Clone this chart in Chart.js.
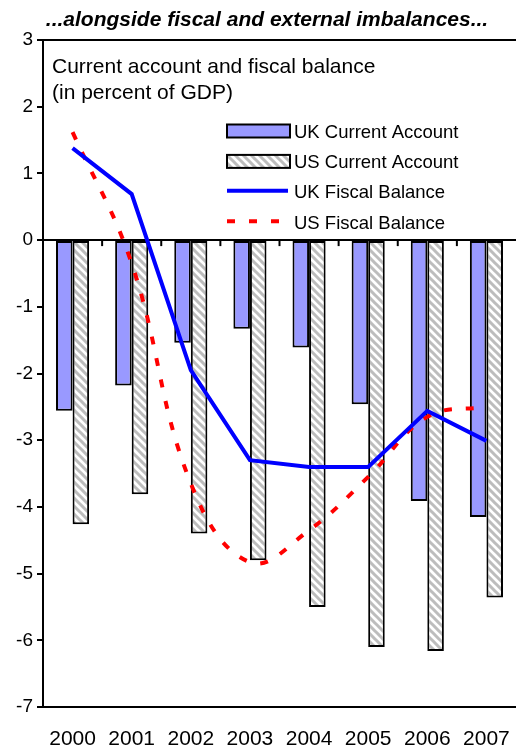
<!DOCTYPE html>
<html>
<head>
<meta charset="utf-8">
<script src="https://cdn.jsdelivr.net/npm/chart.js@4.4.0/dist/chart.umd.min.js"></script>
<style>
  html, body { margin: 0; padding: 0; background: #fff; }
  #wrap { width: 516px; height: 753px; position: relative; }
</style>
</head>
<body>
<div id="wrap"><canvas id="chart"></canvas></div>
<script>
// === Data ===
const years = ["2000", "2001", "2002", "2003", "2004", "2005", "2006", "2007"];
const ukCurrentAccount = [-2.56, -2.18, -1.54, -1.33, -1.61, -2.46, -3.91, -4.15];
const usCurrentAccount = [-4.26, -3.81, -4.40, -4.80, -5.50, -6.10, -6.16, -5.36];
const ukFiscalBalance = [1.38, 0.69, -1.95, -3.30, -3.40, -3.40, -2.56, -3.01];
const usFiscalBalance = [1.62, -0.35, -3.65, -4.83, -4.35, -3.55, -2.65, -2.50];
const yMin = -7;
const yMax = 3;
const seriesNames = ["UK Current Account", "US Current Account", "UK Fiscal Balance", "US Fiscal Balance"];
const titleText = "...alongside fiscal and external imbalances...";
const noteLines = ["Current account and fiscal balance", "(in percent of GDP)"];

const FONT = "'Liberation Sans', Arial, sans-serif";

// grey diagonal hatch for the US bars
function makeHatch() {
  const c = document.createElement("canvas");
  c.width = 8; c.height = 8;
  const g = c.getContext("2d");
  g.fillStyle = "#fff";
  g.fillRect(0, 0, 8, 8);
  g.strokeStyle = "#bdbdbd";
  g.lineWidth = 3;
  g.beginPath();
  g.moveTo(-4, 4); g.lineTo(4, 12);
  g.moveTo(0, 0); g.lineTo(8, 8);
  g.moveTo(4, -4); g.lineTo(12, 4);
  g.stroke();
  return g.createPattern(c, "repeat");
}
const hatch = makeHatch();

// === small tick marks on the zero line between categories ===
const zeroTicks = {
  id: "zeroTicks",
  afterDatasetsDraw(chart) {
    const { ctx, scales: { x, y } } = chart;
    const y0 = y.getPixelForValue(0);
    ctx.save();
    ctx.strokeStyle = "#000";
    ctx.lineWidth = 2;
    for (let i = 0; i < years.length - 1; i++) {
      const px = (x.getPixelForValue(i) + x.getPixelForValue(i + 1)) / 2;
      ctx.beginPath();
      ctx.moveTo(px, y0);
      ctx.lineTo(px, y0 + 6);
      ctx.stroke();
    }
    ctx.restore();
  }
};

// === title, note text and legend ===
const insideLegend = {
  id: "insideLegend",
  afterDraw(chart) {
    const { ctx, chartArea: a } = chart;
    const ds = chart.data.datasets;
    ctx.save();
    ctx.fillStyle = "#000";
    ctx.textBaseline = "alphabetic";

    ctx.textAlign = "center";
    ctx.font = "italic bold 21px " + FONT;
    ctx.fillText(titleText, 267, 26);

    ctx.textAlign = "left";
    ctx.font = "21px " + FONT;
    noteLines.forEach((t, i) => ctx.fillText(t, a.left + 9, a.top + 33 + i * 26));

    const bx = a.left + 184, bw = 63, bh = 13;
    ctx.font = "18.5px " + FONT;
    ds.forEach((d, i) => {
      const cy = a.top + 91 + i * 30.4;
      if (d.type === "bar") {
        ctx.fillStyle = d.backgroundColor;
        ctx.fillRect(bx, cy - bh / 2, bw, bh);
        ctx.strokeStyle = "#000";
        ctx.lineWidth = 2;
        ctx.strokeRect(bx, cy - bh / 2, bw, bh);
      } else {
        ctx.strokeStyle = d.borderColor;
        ctx.lineWidth = d.borderWidth;
        ctx.setLineDash(d.borderDash || []);
        ctx.beginPath();
        ctx.moveTo(bx, cy - 1);
        ctx.lineTo(bx + bw - 2, cy - 1);
        ctx.stroke();
        ctx.setLineDash([]);
      }
      ctx.fillStyle = "#000";
      ctx.fillText(d.label, bx + 67, cy + 6.5);
    });
    ctx.restore();
  }
};

const ctx = document.getElementById("chart").getContext("2d");
const chart = new Chart(ctx, {
  data: {
    labels: years,
    datasets: [
      {
        type: "bar",
        label: seriesNames[0],
        data: ukCurrentAccount,
        backgroundColor: "#9999ff",
        borderColor: "#000",
        borderWidth: 2,
        borderSkipped: false,
        categoryPercentage: 0.56,
        barPercentage: 1.0,
        order: 2
      },
      {
        type: "bar",
        label: seriesNames[1],
        data: usCurrentAccount,
        backgroundColor: hatch,
        borderColor: "#000",
        borderWidth: 2,
        borderSkipped: false,
        categoryPercentage: 0.56,
        barPercentage: 1.0,
        order: 2
      },
      {
        type: "line",
        label: seriesNames[2],
        data: ukFiscalBalance,
        borderColor: "#0000ff",
        borderWidth: 4,
        pointRadius: 0,
        tension: 0,
        fill: false,
        order: 0
      },
      {
        type: "line",
        label: seriesNames[3],
        data: usFiscalBalance,
        borderColor: "#ff0000",
        borderWidth: 4,
        borderDash: [8, 14],
        pointRadius: 0,
        tension: 0.4,
        fill: false,
        order: 1
      }
    ]
  },
  options: {
    responsive: true,
    maintainAspectRatio: false,
    animation: false,
    layout: { padding: { left: 0, right: 0, top: 40, bottom: 0 } },
    plugins: {
      legend: { display: false },
      tooltip: { enabled: false },
      title: { display: false }
    },
    scales: {
      x: {
        grid: { display: false, drawTicks: false },
        border: { display: false },
        ticks: { color: "#000", font: { family: FONT, size: 21 }, padding: 20 },
        afterFit: s => { s.paddingLeft = 0; s.paddingRight = 0; s.height = 46; }
      },
      y: {
        min: yMin,
        max: yMax,
        ticks: { stepSize: 1, color: "#000", font: { family: FONT, size: 19 }, padding: 4 },
        grid: {
          color: c => [0, yMin, yMax].includes(c.tick.value) ? "#000" : "rgba(0,0,0,0)",
          lineWidth: 2,
          tickColor: "#000",
          tickLength: 6
        },
        border: { display: true, color: "#000", width: 2 },
        afterFit: s => { s.width = 43; }
      }
    }
  },
  plugins: [zeroTicks, insideLegend]
});
</script>
</body>
</html>
